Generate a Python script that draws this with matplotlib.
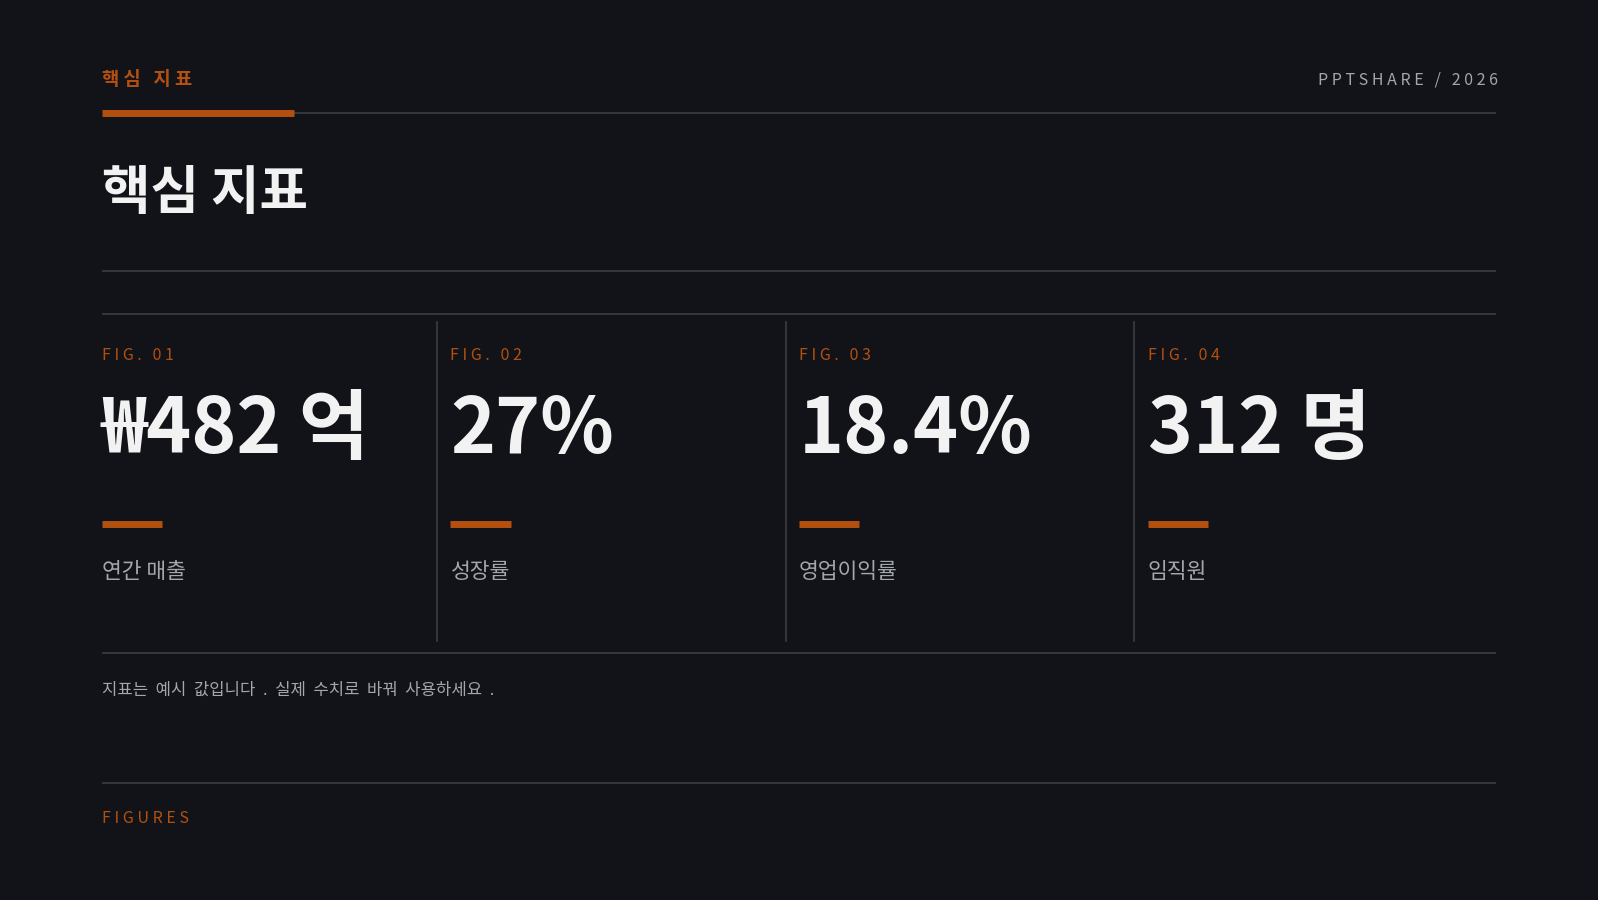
import matplotlib.pyplot as plt
from matplotlib.lines import Line2D

plt.rcParams['font.family'] = ['Noto Sans CJK KR', 'DejaVu Sans']

# 데이터
fig_labels = ["FIG. 01", "FIG. 02", "FIG. 03", "FIG. 04"]
values = ["₩482 억", "27%", "18.4%", "312 명"]
names = ["연간 매출", "성장률", "영업이익률", "임직원"]

BG = "#111318"
ORANGE = "#b4500f"
LINE = "#3b3e45"
GREY = "#a3a6ab"
WHITE = "#f2f2f2"

W, H = 1568, 882


def fx(x):
    return x / W


def fy(y):
    return 1 - y / H


def spaced(s, n=1):
    return (" " * n).join(s)


def hline(x0, x1, y, color=LINE, lw=1.2):
    fig.add_artist(Line2D([fx(x0), fx(x1)], [fy(y), fy(y)], color=color, lw=lw,
                          solid_capstyle="butt"))


fig = plt.figure(figsize=(15.98, 9), dpi=100, facecolor=BG)

# 상단 헤더
fig.text(fx(100), fy(78), spaced("핵심 지표"), color=ORANGE, fontsize=13.5,
         fontweight="bold", va="center")
fig.text(fx(1470), fy(78), spaced("PPTSHARE / 2026"), color=GREY, fontsize=11.5,
         va="center", ha="right")
hline(288, 1468, 111)
hline(100, 288, 111, color=ORANGE, lw=5)

# 제목
fig.text(fx(100), fy(190), "핵심 지표", color=WHITE, fontsize=38,
         fontweight="bold", va="center")
hline(100, 1468, 266)
hline(100, 1468, 308)

# 지표 카드
col_x = [100, 442, 784, 1126]
for i, x in enumerate(col_x):
    fig.text(fx(x), fy(348), spaced(fig_labels[i]), color=ORANGE, fontsize=11.5,
             va="center")
    fig.text(fx(x), fy(422), values[i], color=WHITE, fontsize=55,
             fontweight="bold", va="center")
    hline(x, x + 59, 514, color=ORANGE, lw=5)
    fig.text(fx(x), fy(561), names[i], color=GREY, fontsize=15.5, va="center")
    if i > 0:
        fig.add_artist(Line2D([fx(x - 13)] * 2, [fy(316), fy(628)],
                              color=LINE, lw=1.2))

hline(100, 1468, 640)
fig.text(fx(100), fy(677), spaced("지표는 예시 값입니다 . 실제 수치로 바꿔 사용하세요 .", 0).replace(" ", "  "),
         color=GREY, fontsize=12, va="center")

hline(100, 1468, 767)
fig.text(fx(100), fy(802), spaced("FIGURES"), color=ORANGE, fontsize=11.5,
         va="center")

plt.savefig("out.png", facecolor=BG)
